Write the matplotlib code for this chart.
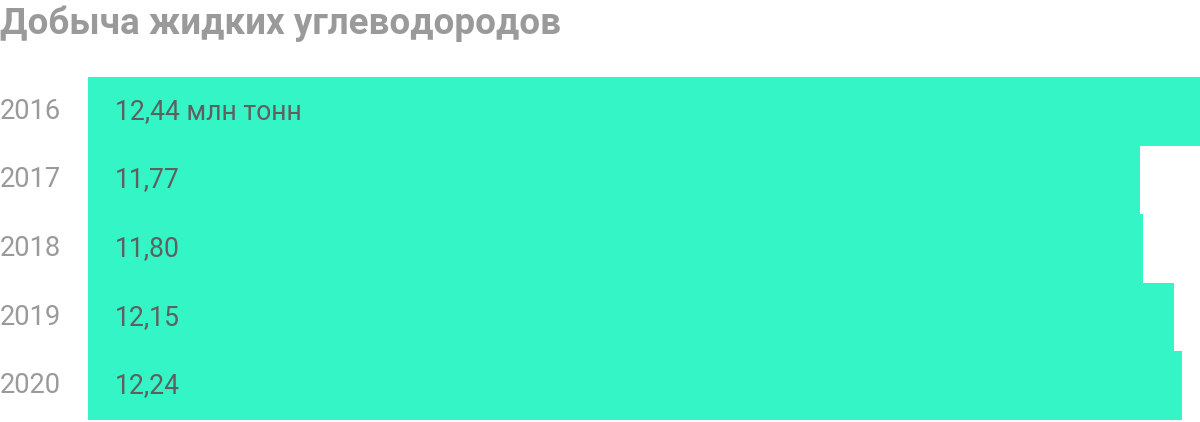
import matplotlib
matplotlib.use("Agg")
import matplotlib.pyplot as plt

# data
years = ["2016", "2017", "2018", "2019", "2020"]
values = [12.44, 11.77, 11.80, 12.15, 12.24]
labels = ["12,44 млн тонн", "11,77", "11,80", "12,15", "12,24"]

W, H = 1200, 422
fig = plt.figure(figsize=(W / 100, H / 100), dpi=100)
plt.rcParams['font.family'] = ['Roboto', 'DejaVu Sans']

ax = fig.add_axes([88 / W, 2 / H, 1 - 88 / W, (420 - 77) / H])
pos = list(range(len(years)))
ax.barh(pos, values, height=1.0, color="#33F5C5", edgecolor="none")
ax.set_xlim(0, max(values))
ax.set_ylim(len(years) - 0.5, -0.5)
ax.axis("off")

for i, (yr, lab) in enumerate(zip(years, labels)):
    ax.text(-88 / 1112 * max(values), i, yr, ha="left", va="center",
            fontsize=19.6, color="#9a9a9a")
    ax.text(27 / 1112 * max(values), i, lab, ha="left", va="center",
            fontsize=19.1, color="#5f5f5f")

fig.text(0, 1 - 24 / H, "Добыча жидких углеводородов", ha="left", va="center",
         fontsize=26.5, fontweight="bold", color="#9a9a9a")

fig.savefig("out.png", dpi=100)
